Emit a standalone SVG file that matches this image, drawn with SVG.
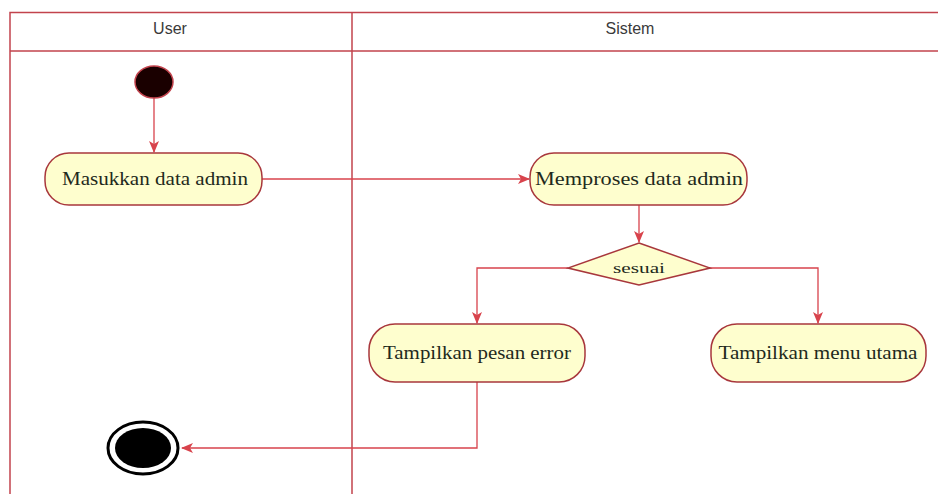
<svg xmlns="http://www.w3.org/2000/svg" width="938" height="494" viewBox="0 0 938 494">
  <style>
    .lane { fill: none; stroke: #c2434d; stroke-width: 1.5; }
    .head { font-family: "Liberation Sans", Arial, sans-serif; font-size: 16px; fill: #3a3a3a; text-anchor: middle; }
    .act { fill: #fefece; stroke: #a8373c; stroke-width: 1.5; }
    .lbl { font-family: "Liberation Serif", "Times New Roman", serif; font-size: 18px; fill: #1f2a1c; text-anchor: middle; }
    .small { font-size: 15px; }
    .flow { fill: none; stroke: #d8434c; stroke-width: 1.3; }
  </style>
  <defs>
    <marker id="arrow" viewBox="0 0 12 12" refX="11" refY="6" markerWidth="12" markerHeight="12" markerUnits="userSpaceOnUse" orient="auto">
      <path d="M0,1 L12,6 L0,11 L3,6 Z" fill="#d8434c"/>
    </marker>
  </defs>
  <rect width="938" height="494" fill="#ffffff"/>

  <!-- swimlanes -->
  <g id="swimlanes">
    <rect x="10" y="12.5" width="940" height="500" fill="#fffefe" class="lane"/>
    <line x1="10" y1="51" x2="950" y2="51" class="lane"/>
    <line x1="352" y1="12.5" x2="352" y2="500" class="lane"/>
    <text x="170" y="34" class="head">User</text>
    <text x="630" y="34" class="head">Sistem</text>
  </g>

  <!-- connectors -->
  <g id="connectors">
    <line x1="154" y1="98" x2="154" y2="152" class="flow" marker-end="url(#arrow)"/>
    <line x1="262" y1="179" x2="529" y2="179" class="flow" marker-end="url(#arrow)"/>
    <line x1="639" y1="205" x2="639" y2="242" class="flow" marker-end="url(#arrow)"/>
    <polyline points="568,268 477,268 477,323" class="flow" marker-end="url(#arrow)"/>
    <polyline points="710,268 818,268 818,323" class="flow" marker-end="url(#arrow)"/>
    <polyline points="477,382 477,448 182,448" class="flow" marker-end="url(#arrow)"/>
  </g>

  <g id="start">
    <ellipse cx="154" cy="82" rx="19" ry="16" fill="#1a0000" stroke="#c2434d" stroke-width="1.5"/>
  </g>

  <g id="masukkan">
    <rect x="45" y="153" width="217" height="52" rx="24" ry="24" class="act"/>
    <text x="155" y="185" class="lbl" textLength="186" lengthAdjust="spacingAndGlyphs">Masukkan data admin</text>
  </g>

  <g id="memproses">
    <rect x="530" y="153" width="217" height="52" rx="24" ry="24" class="act"/>
    <text x="639" y="185" class="lbl" textLength="208" lengthAdjust="spacingAndGlyphs">Memproses data admin</text>
  </g>

  <g id="sesuai">
    <polygon points="639,243 710,268 639,285 568,268" class="act"/>
    <text x="639" y="273" class="lbl small" textLength="52" lengthAdjust="spacingAndGlyphs">sesuai</text>
  </g>

  <g id="pesan-error">
    <rect x="369" y="324" width="216" height="58" rx="26" ry="26" class="act"/>
    <text x="477" y="359" class="lbl" textLength="188" lengthAdjust="spacingAndGlyphs">Tampilkan pesan error</text>
  </g>

  <g id="menu-utama">
    <rect x="711" y="324" width="215" height="58" rx="26" ry="26" class="act"/>
    <text x="818" y="359" class="lbl" textLength="199" lengthAdjust="spacingAndGlyphs">Tampilkan menu utama</text>
  </g>

  <g id="end">
    <ellipse cx="143" cy="448" rx="35" ry="26" fill="#ffffff" stroke="#000000" stroke-width="3"/>
    <ellipse cx="143" cy="448" rx="28" ry="20" fill="#000000"/>
  </g>
</svg>
